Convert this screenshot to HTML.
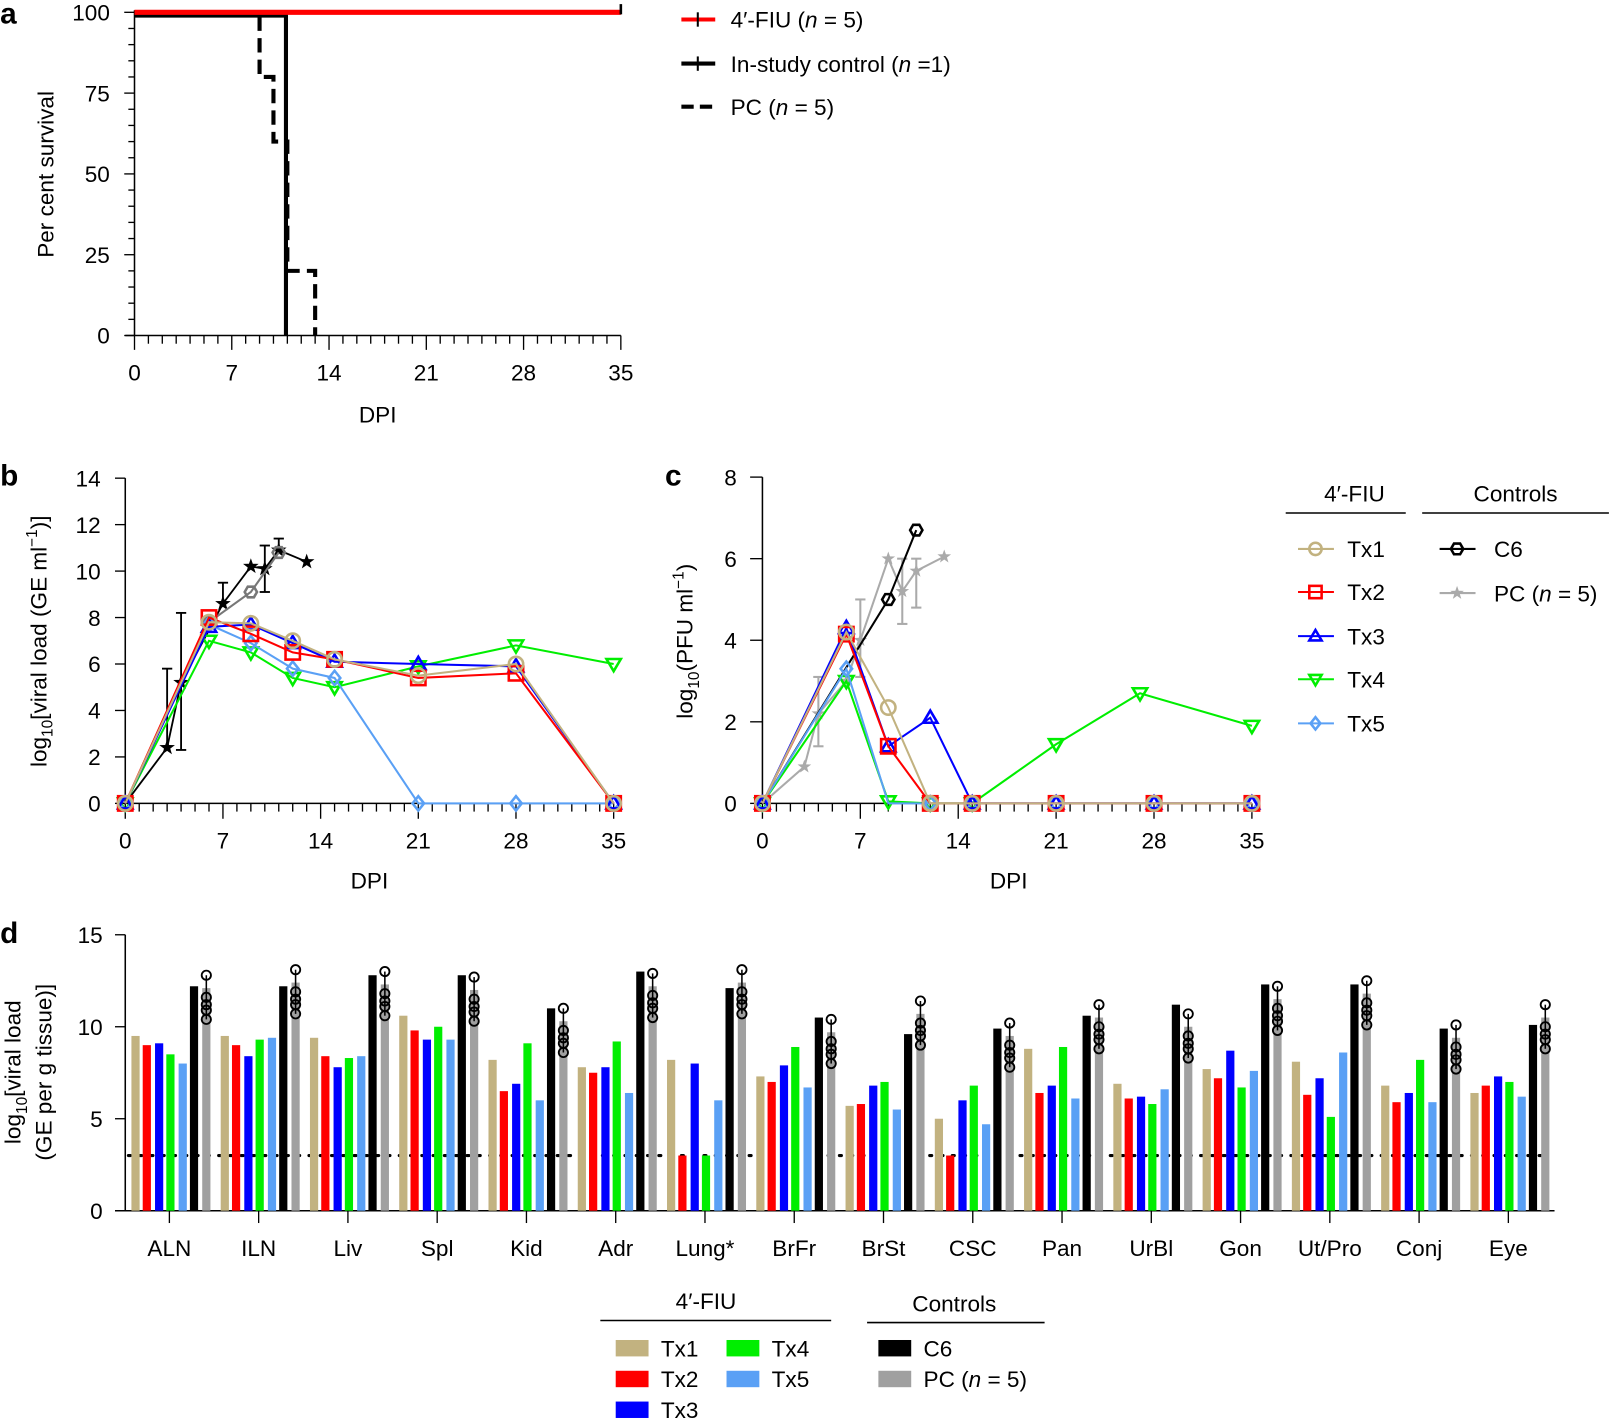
<!DOCTYPE html>
<html><head><meta charset="utf-8">
<style>
html,body{margin:0;padding:0;background:#fff;}
svg{display:block;}
text{font-family:"Liberation Sans",Arial,sans-serif;fill:#000;}
</style></head>
<body>
<svg id="s" width="1609" height="1419" viewBox="0 0 1568 1383" xmlns="http://www.w3.org/2000/svg"></svg>
<script>
const S=document.getElementById('s');let h='';
const TAN='#c2b280',RED='#ff0000',BLU='#0000ff',GRN='#00ee00',LBL='#5aa0f5';
const FS=22;
function L(x1,y1,x2,y2,c,w,extra){h+=`<line x1="${x1}" y1="${y1}" x2="${x2}" y2="${y2}" stroke="${c||'#000'}" stroke-width="${w||1.5}" ${extra||''}/>`;}
function T(x,y,t,sz,anc,extra){h+=`<text x="${x}" y="${y}" font-size="${sz||FS}" text-anchor="${anc||'middle'}" ${extra||''}>${t}</text>`;}
function PL(pts,c,w,extra){h+=`<polyline points="${pts.map(p=>p.join(',')).join(' ')}" fill="none" stroke="${c}" stroke-width="${w||2}" ${extra||''}/>`;}
function mk(type,x,y,c,r){r=r||7;
 if(type=='o')h+=`<circle cx="${x}" cy="${y}" r="${r}" fill="none" stroke="${c}" stroke-width="2.5"/>`;
 else if(type=='s')h+=`<rect x="${x-r}" y="${y-r}" width="${2*r}" height="${2*r}" fill="none" stroke="${c}" stroke-width="2.5"/>`;
 else if(type=='t')h+=`<polygon points="${x},${y-r} ${x+r},${y+r*0.7} ${x-r},${y+r*0.7}" fill="none" stroke="${c}" stroke-width="2.5"/>`;
 else if(type=='v')h+=`<polygon points="${x},${y+r} ${x+r},${y-r*0.7} ${x-r},${y-r*0.7}" fill="none" stroke="${c}" stroke-width="2.5"/>`;
 else if(type=='d')h+=`<polygon points="${x},${y-r} ${x+r*0.8},${y} ${x},${y+r} ${x-r*0.8},${y}" fill="none" stroke="${c}" stroke-width="2.5"/>`;
 else if(type=='h'){let p=[];for(let i=0;i<6;i++){let a=Math.PI/3*i;p.push((x+r*Math.cos(a))+','+(y+r*Math.sin(a)));}h+=`<polygon points="${p.join(' ')}" fill="none" stroke="${c}" stroke-width="2.5"/>`;}
 else if(type=='*'){let p=[];for(let i=0;i<10;i++){let a=-Math.PI/2+Math.PI/5*i,rr=i%2?r*0.4:r;p.push((x+rr*Math.cos(a))+','+(y+rr*Math.sin(a)));}h+=`<polygon points="${p.join(' ')}" fill="${c}"/>`;}
}
// ---------- Panel a ----------
T(0,23,'a',29,'start','font-weight="bold"');
{const X=d=>131+d*13.543,Y=v=>327-v*3.15;
 L(131,10,131,327);L(122,327,605,327);
 for(let v=0;v<=100;v+=5){let big=v%25==0;L(big?121:125,Y(v),131,Y(v),'#000',1.3);}
 [0,25,50,75,100].forEach(v=>T(107,Y(v)+8,v,FS,'end'));
 for(let d=0;d<=35;d++){let big=d%7==0;L(X(d),327,X(d),big?341:335,'#000',1.3);}
 [0,7,14,21,28,35].forEach(d=>T(X(d),371,d,FS));
 T(368,412,'DPI',FS);
 T(52,170,'Per cent survival',FS,'middle','transform="rotate(-90 52 170)"');
 PL([[X(0),Y(100)],[X(9),Y(100)],[X(9),Y(80)],[X(10),Y(80)],[X(10),Y(60)],[X(11),Y(60)],[X(11),Y(20)],[X(13),Y(20)],[X(13),Y(0)]],'#000',4,'stroke-dasharray="14,7"');
 PL([[X(0),Y(99)],[X(10.9),Y(99)],[X(10.9),Y(0)]],'#000',4);
 L(X(0),Y(100),X(35),Y(100),RED,5);
 L(X(35),Y(100)-8,X(35),Y(100)+2,'#000',2.5);
 L(664,19,697,19,RED,4);L(680,12,680,26,'#000',2);T(712,27,'4′-FIU (<tspan font-style="italic">n</tspan> = 5)',FS,'start');
 L(664,62,697,62,'#000',4);L(680,55,680,69,'#000',2);T(712,70,'In-study control (<tspan font-style="italic">n</tspan> =1)',FS,'start');
 L(664,104,697,104,'#000',4,'stroke-dasharray="12,6"');T(712,112,'PC (<tspan font-style="italic">n</tspan> = 5)',FS,'start');
}
// ---------- Panel b ----------
T(0,473,'b',29,'start','font-weight="bold"');
{const X=d=>122+d*13.6,Y=v=>783-v*22.64;
 L(122,466,122,783);L(114,783,598,783);
 for(let v=0;v<=14;v+=2){L(112,Y(v),122,Y(v),'#000',1.3);T(98,Y(v)+8,v,FS,'end');}
 for(let d=0;d<=35;d++){let big=d%7==0;L(X(d),783,X(d),big?798:791,'#000',1.3);}
 [0,7,14,21,28,35].forEach(d=>T(X(d),827,d,FS));
 T(360,866,'DPI',FS);
 T(45,625,'log<tspan font-size="15" dy="6">10</tspan><tspan dy="-6">[viral load (GE ml</tspan><tspan font-size="15" dy="-9">−1</tspan><tspan dy="9">)]</tspan>',FS,'middle','transform="rotate(-90 45 625)"');
 const pc=[[0,0],[3,2.4],[4,5.2],[7,8.6],[9,10.2],[10,10.1],[11,10.9],[13,10.4]];
 [[3,2.4,5.8],[4,2.3,8.2],[7,8.6,9.5],[10,9.1,11.1],[11,10.9,11.4]].forEach(e=>{L(X(e[0]),Y(e[1]),X(e[0]),Y(e[2]),'#000',1.8);L(X(e[0])-5,Y(e[2]),X(e[0])+5,Y(e[2]),'#000',1.8);if(e[0]==4||e[0]==10)L(X(e[0])-5,Y(e[1]),X(e[0])+5,Y(e[1]),'#000',1.8);});
 PL(pc.map(p=>[X(p[0]),Y(p[1])]),'#000',1.8);pc.slice(1).forEach(p=>mk('*',X(p[0]),Y(p[1]),'#000',8));
 const c6=[[6,7.8],[9,9.1],[11,10.8]];PL(c6.map(p=>[X(p[0]),Y(p[1])]),'#777',2);c6.forEach(p=>mk('h',X(p[0]),Y(p[1]),'#777',6));
 const D=[0,6,9,12,15,21,28,35];
 const ser=[[GRN,'v',[0,7.0,6.5,5.4,5.0,5.9,6.8,6.0]],[LBL,'d',[0,7.7,6.9,5.8,5.4,0,0,0]],[BLU,'t',[0,7.6,7.7,6.9,6.1,6.0,5.9,0]],[RED,'s',[0,8.0,7.3,6.5,6.2,5.4,5.6,0]],[TAN,'o',[0,7.8,7.75,7.0,6.2,5.5,6.0,0]]];
 ser.forEach(s=>{PL(D.map((d,i)=>[X(d),Y(s[2][i])]),s[0],2);D.forEach((d,i)=>mk(s[1],X(d),Y(s[2][i]),s[0],7));});
}
// ---------- Panel c ----------
T(648,473,'c',29,'start','font-weight="bold"');
{const X=d=>743+d*13.63,Y=v=>783-v*39.75;
 L(743,465,743,783);L(735,783,1220,783);
 for(let v=0;v<=8;v+=2){L(731,Y(v),743,Y(v),'#000',1.3);T(718,Y(v)+8,v,FS,'end');}
 for(let d=0;d<=35;d++){let big=d%7==0;L(X(d),783,X(d),big?798:791,'#000',1.3);}
 [0,7,14,21,28,35].forEach(d=>T(X(d),827,d,FS));
 T(983,866,'DPI',FS);
 T(675,625,'log<tspan font-size="15" dy="6">10</tspan><tspan dy="-6">(PFU ml</tspan><tspan font-size="15" dy="-9">−1</tspan><tspan dy="9">)</tspan>',FS,'middle','transform="rotate(-90 675 625)"');
 const G='#aaa';
 [[4,1.4,3.1],[7,3.1,5.0],[10,4.4,6.0],[11,4.8,6.0]].forEach(e=>{L(X(e[0]),Y(e[1]),X(e[0]),Y(e[2]),G,2);L(X(e[0])-5,Y(e[2]),X(e[0])+5,Y(e[2]),G,2);L(X(e[0])-5,Y(e[1]),X(e[0])+5,Y(e[1]),G,2);});
 const pc=[[0,0],[3,0.9],[4,2.2],[6,3.0],[7,4.0],[9,6.0],[10,5.2],[11,5.7],[13,6.05]];
 PL(pc.map(p=>[X(p[0]),Y(p[1])]),G,2);pc.slice(1).forEach(p=>mk('*',X(p[0]),Y(p[1]),G,7));
 const c6=[[0,0],[9,5.0],[11,6.7]];PL(c6.map(p=>[X(p[0]),Y(p[1])]),'#000',2);c6.slice(1).forEach(p=>mk('h',X(p[0]),Y(p[1]),'#000',6));
 const ser=[
  [GRN,'v',[[0,0],[6,3.0],[9,0.05],[12,0],[15,0],[21,1.45],[27,2.7],[35,1.9]]],
  [LBL,'d',[[0,0],[6,3.3],[9,0],[12,0],[15,0],[21,0],[28,0],[35,0]],1],
  [BLU,'t',[[0,0],[6,4.3],[9,1.4],[12,2.1],[15,0],[21,0],[28,0],[35,0]]],
  [RED,'s',[[0,0],[6,4.15],[9,1.4],[12,0],[15,0],[21,0],[28,0],[35,0]]],
  [TAN,'o',[[0,0],[6,4.2],[9,2.35],[12,0],[15,0],[21,0],[28,0],[35,0]]]];
 ser.forEach(s=>{PL(s[2].map(p=>[X(p[0]),Y(p[1])]),s[0],2);s[2].forEach(p=>{if(p[0]==9&&s[0]==LBL)return;mk(s[1],X(p[0]),Y(p[1]),s[0],7);});});
 T(1320,489,'4′-FIU',FS);L(1253,500,1370,500,'#000',1.5);
 T(1477,489,'Controls',FS);L(1386,500,1568,500,'#000',1.5);
 [[TAN,'o','Tx1',535],[RED,'s','Tx2',577],[BLU,'t','Tx3',620],[GRN,'v','Tx4',662],[LBL,'d','Tx5',705]].forEach(e=>{L(1265,e[3],1300,e[3],e[0],2);mk(e[1],1282,e[3],e[0],6);T(1313,e[3]+8,e[2],FS,'start');});
 L(1403,535,1438,535,'#000',2);mk('h',1420,535,'#000',6);T(1456,543,'C6',FS,'start');
 L(1403,578,1438,578,G,2);mk('*',1420,578,G,7);T(1456,586,'PC (<tspan font-style="italic">n</tspan> = 5)',FS,'start');
}
// ---------- Panel d ----------
T(0,919,'d',29,'start','font-weight="bold"');
{const Y=v=>1180-v*17.93;
 L(122,911,122,1180);L(112,1180,1515,1180);
 [0,5,10,15].forEach(v=>{L(112,Y(v),122,Y(v),'#000',1.3);T(100,Y(v)+8,v,FS,'end');});
 T(20,1045,'log<tspan font-size="15" dy="6">10</tspan><tspan dy="-6">[viral load</tspan>',FS,'middle','transform="rotate(-90 20 1045)"');
 T(50,1045,'(GE per g tissue)]',FS,'middle','transform="rotate(-90 50 1045)"');
 const names=['ALN','ILN','Liv','Spl','Kid','Adr','Lung*','BrFr','BrSt','CSC','Pan','UrBl','Gon','Ut/Pro','Conj','Eye'];
 const V=[[9.5,9.0,9.1,8.5,8.0,12.2,12.1],[9.5,9.0,8.4,9.3,9.4,12.2,12.4],[9.4,8.4,7.8,8.3,8.4,12.8,12.3],[10.6,9.8,9.3,10.0,9.3,12.8,12.0],[8.2,6.5,6.9,9.1,6.0,11.0,10.3],[7.8,7.5,7.8,9.2,6.4,13.0,12.2],[8.2,3.0,8.0,3.0,6.0,12.1,12.4],[7.3,7.0,7.9,8.9,6.7,10.5,9.7],[5.7,5.8,6.8,7.0,5.5,9.6,10.7],[5.0,3.0,6.0,6.8,4.7,9.9,9.5],[8.8,6.4,6.8,8.9,6.1,10.6,10.5],[6.9,6.1,6.2,5.8,6.6,11.2,10.0],[7.7,7.2,8.7,6.7,7.6,12.3,11.5],[8.1,6.3,7.2,5.1,8.6,12.3,11.8],[6.8,5.9,6.4,8.2,5.9,9.9,9.4],[6.4,6.8,7.3,7.0,6.2,10.1,10.5]];
 const cols=[TAN,RED,BLU,GRN,LBL,'#000','#a0a0a0'];const off=[-33,-22,-10,1,13,24,36];
 L(125,Y(3),1510,Y(3),'#000',3,'stroke-dasharray="2,9" stroke-linecap="round"');
 names.forEach((n,g)=>{const cx=165+g*87;
  V[g].forEach((v,i)=>{h+=`<rect x="${cx+off[i]-4}" y="${Y(v)}" width="8" height="${Y(0)-Y(v)}" fill="${cols[i]}"/>`;});
  const gx=cx+off[6],gv=V[g][6];
  const pts=[gv+0.7,gv-0.5,gv-0.9,gv-1.2,gv-1.7];
  L(gx,Y(pts[4]),gx,Y(pts[0]),'#000',1.5);
  pts.forEach(p=>h+=`<circle cx="${gx}" cy="${Y(p)}" r="4.5" fill="none" stroke="#000" stroke-width="1.8"/>`);
  L(cx,1180,cx,1192,'#000',1.3);
  T(cx,1224,n,FS);
 });
 T(688,1276,'4′-FIU',FS);L(585,1287,810,1287,'#000',1.5);
 T(930,1278,'Controls',FS);L(845,1289,1018,1289,'#000',1.5);
 [[600,1306,TAN,'Tx1'],[600,1336,RED,'Tx2'],[600,1366,BLU,'Tx3'],[708,1306,GRN,'Tx4'],[708,1336,LBL,'Tx5'],[856,1306,'#000','C6'],[856,1336,'#a0a0a0','PC (<tspan font-style="italic">n</tspan> = 5)']].forEach(e=>{h+=`<rect x="${e[0]}" y="${e[1]}" width="32" height="16" fill="${e[2]}"/>`;T(e[0]+44,e[1]+16,e[3],FS,'start');});
}
S.innerHTML=h;
</script>
</body></html>
